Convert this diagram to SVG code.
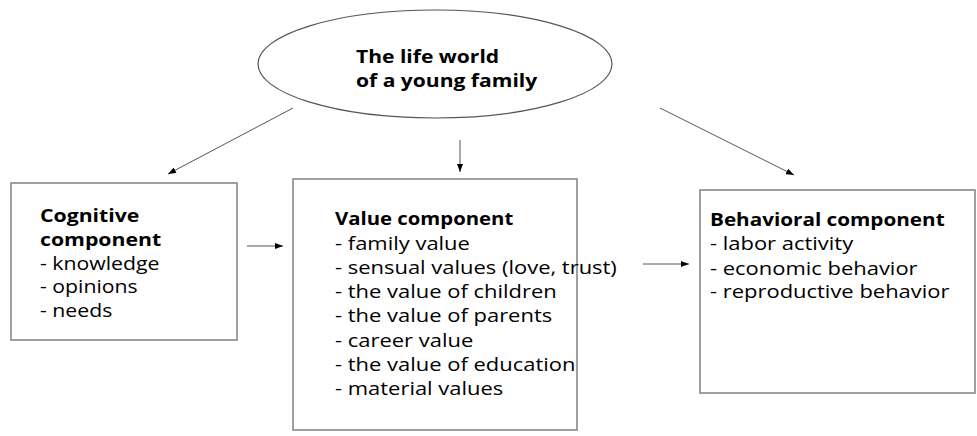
<svg xmlns="http://www.w3.org/2000/svg" width="977" height="436" viewBox="0 0 977 436">
<style>
.box{fill:#fff;stroke:#808080;stroke-width:1.5}
.t{font-family:"Open Sans","Liberation Sans",sans-serif;font-size:18px;fill:#000}
.b{font-weight:bold}
.c{stroke:#555;stroke-width:1;fill:none;marker-end:url(#ah)}
</style>
<defs>
<marker id="ah" markerWidth="8" markerHeight="6" refX="8" refY="3" orient="auto" markerUnits="userSpaceOnUse">
<path d="M0,0 L8,3 L0,6 z" fill="#000"/>
</marker>
</defs>
<rect width="977" height="436" fill="#fff"/>
<g id="connectors">
<line class="c" x1="293" y1="108" x2="168" y2="174"/>
<line class="c" x1="460" y1="140" x2="460" y2="172"/>
<line class="c" x1="660" y1="108" x2="794" y2="175"/>
<line class="c" x1="247" y1="246" x2="283" y2="246"/>
<line class="c" x1="643" y1="264" x2="689" y2="264"/>
</g>
<g id="life-world">
<ellipse cx="435" cy="64" rx="177" ry="54" fill="#fff" stroke="#555" stroke-width="1.2"/>
<g transform="translate(356,0) scale(1.17,1)">
<text class="t b" x="0" y="63">The life world</text>
<text class="t b" x="0" y="87">of a young family</text>
</g>
</g>
<g id="cognitive">
<rect class="box" x="11" y="183" width="226" height="157"/>
<g transform="translate(40,0) scale(1.18,1)">
<text class="t b" x="0" y="222">Cognitive</text>
<text class="t b" x="0" y="246">component</text>
<text class="t" x="0" y="270">- knowledge</text>
<text class="t" x="0" y="293">- opinions</text>
<text class="t" x="0" y="317">- needs</text>
</g>
</g>
<g id="value">
<rect class="box" x="293" y="179" width="284" height="251"/>
<g transform="translate(335,0) scale(1.13,1)">
<text class="t b" x="0" y="225">Value component</text>
</g>
<g transform="translate(335,0) scale(1.22,1)">
<text class="t" x="0" y="250">- family value</text>
<text class="t" x="0" y="274">- sensual values (love, trust)</text>
<text class="t" x="0" y="298">- the value of children</text>
<text class="t" x="0" y="322">- the value of parents</text>
<text class="t" x="0" y="347">- career value</text>
<text class="t" x="0" y="371">- the value of education</text>
<text class="t" x="0" y="395">- material values</text>
</g>
</g>
<g id="behavioral">
<rect class="box" x="700" y="190" width="275" height="203"/>
<g transform="translate(710,0) scale(1.15,1)">
<text class="t b" x="0" y="226">Behavioral component</text>
</g>
<g transform="translate(710,0) scale(1.22,1)">
<text class="t" x="0" y="250">- labor activity</text>
<text class="t" x="0" y="275">- economic behavior</text>
<text class="t" x="0" y="298">- reproductive behavior</text>
</g>
</g>
</svg>
